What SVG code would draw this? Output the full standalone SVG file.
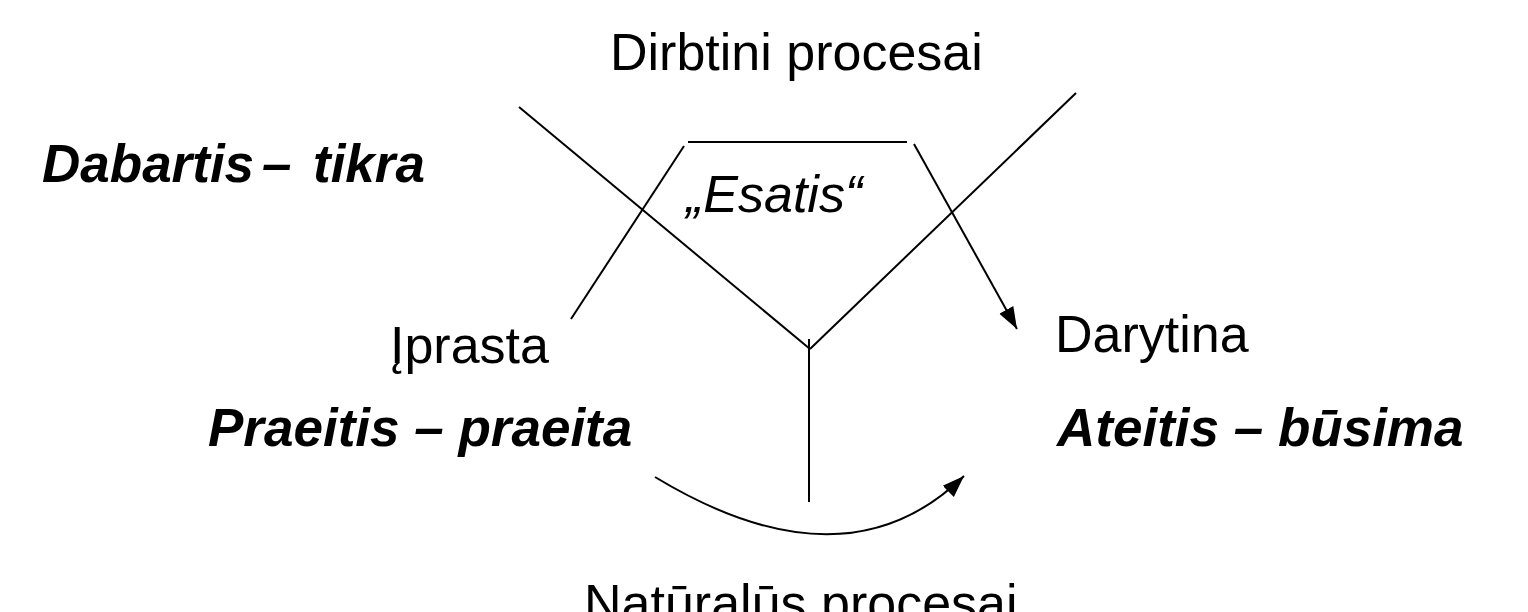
<svg xmlns="http://www.w3.org/2000/svg" width="1528" height="612" viewBox="0 0 1528 612">
<style>
.reg{font-family:"Liberation Sans",Arial,sans-serif;font-size:52px;fill:#000}
.bi{font-family:"Liberation Sans",Arial,sans-serif;font-size:53px;font-weight:bold;font-style:italic;fill:#000}
.it{font-family:"Liberation Sans",Arial,sans-serif;font-size:52px;font-style:italic;fill:#000}
.ln{stroke:#000;stroke-width:2;fill:none}
</style>
<defs>
<marker id="ah" markerUnits="userSpaceOnUse" markerWidth="24" markerHeight="20" viewBox="0 0 24 20" refX="22" refY="10" orient="auto">
<path d="M0,2 L22,10 L0,18 Z" fill="#000"/>
</marker>
</defs>
<rect width="1528" height="612" fill="#fff"/>
<g id="connectors">
<line class="ln" x1="519" y1="107" x2="810" y2="349"/>
<line class="ln" x1="1076" y1="93" x2="810" y2="349"/>
<line class="ln" x1="809" y1="339" x2="809" y2="502"/>
<line class="ln" x1="688" y1="142" x2="907" y2="142"/>
<line class="ln" x1="684" y1="146" x2="571" y2="319"/>
<line class="ln" x1="914" y1="144" x2="1017" y2="329" marker-end="url(#ah)"/>
<path class="ln" d="M655,477 Q845,592 964,476" marker-end="url(#ah)"/>
</g>
<g id="dirbtini"><text class="reg" x="610" y="70">Dirbtini procesai</text></g>
<g id="dabartis"><text class="bi" x="42" y="182">Dabartis<tspan x="262">–</tspan><tspan x="313">tikra</tspan></text></g>
<g id="esatis"><text class="it" x="686" y="212">„Esatis“</text></g>
<g id="iprasta"><text class="reg" x="390" y="363">Įprasta</text></g>
<g id="praeitis"><text class="bi" x="208" y="446">Praeitis – praeita</text></g>
<g id="darytina"><text class="reg" x="1055" y="352">Darytina</text></g>
<g id="ateitis"><text class="bi" x="1057" y="446">Ateitis – būsima</text></g>
<g id="naturalus"><text class="reg" x="584" y="621">Natūralūs procesai</text></g>
</svg>
